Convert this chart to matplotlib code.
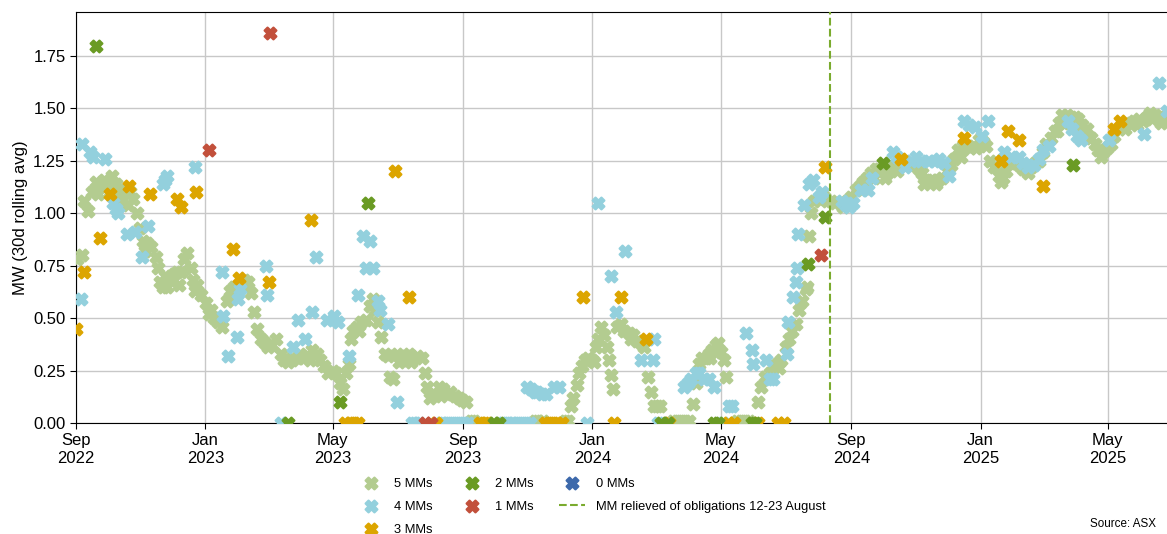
import numpy as np
import pandas as pd
import matplotlib
matplotlib.use('Agg')
import matplotlib.pyplot as plt
import matplotlib.dates as mdates

plt.rcParams['font.family'] = ['Liberation Sans', 'DejaVu Sans']

# ------------------------------------------------------------------
# Data: 30d rolling average MW, split by number of active market makers
# ------------------------------------------------------------------
mm5_dates = [
    '2022-09-02', '2022-09-07', '2022-09-09', '2022-09-12', '2022-09-16', '2022-09-20', '2022-09-24', '2022-09-27',
    '2022-10-01', '2022-10-05', '2022-10-09', '2022-10-12', '2022-10-17', '2022-10-22', '2022-10-25', '2022-10-29',
    '2022-10-31', '2022-11-03', '2022-11-07', '2022-11-11', '2022-11-15', '2022-11-17', '2022-11-19', '2022-11-22',
    '2022-11-26', '2022-11-29', '2022-12-02', '2022-12-05', '2022-12-09', '2022-12-12', '2022-12-15', '2022-12-18',
    '2022-12-20', '2022-12-24', '2022-12-28', '2023-01-02', '2023-01-06', '2023-01-09', '2023-01-13', '2023-01-17',
    '2023-01-21', '2023-01-24', '2023-01-28', '2023-02-02', '2023-02-06', '2023-02-10', '2023-02-13', '2023-02-16',
    '2023-02-19', '2023-02-22', '2023-02-26', '2023-03-01', '2023-03-05', '2023-03-09', '2023-03-13', '2023-03-16',
    '2023-03-20', '2023-03-24', '2023-03-28', '2023-03-31', '2023-04-04', '2023-04-08', '2023-04-12', '2023-04-16',
    '2023-04-19', '2023-04-23', '2023-04-27', '2023-05-01', '2023-05-04', '2023-05-08', '2023-05-11', '2023-05-14',
    '2023-05-16', '2023-05-18', '2023-05-20', '2023-05-24', '2023-05-28', '2023-06-01', '2023-06-05', '2023-06-08',
    '2023-06-10', '2023-06-13', '2023-06-16', '2023-06-19', '2023-06-22', '2023-06-24', '2023-06-27', '2023-07-01',
    '2023-07-05', '2023-07-09', '2023-07-12', '2023-07-16', '2023-07-20', '2023-07-24', '2023-07-27', '2023-07-29',
    '2023-08-01', '2023-08-05', '2023-08-09', '2023-08-13', '2023-08-16', '2023-08-20', '2023-08-24', '2023-08-28',
    '2023-08-31', '2023-09-04', '2023-09-08', '2023-09-11', '2023-11-08', '2023-11-11', '2023-11-15', '2023-12-06',
    '2023-12-09', '2023-12-12', '2023-12-14', '2023-12-17', '2023-12-19', '2023-12-22', '2023-12-25', '2023-12-28',
    '2024-01-01', '2024-01-04', '2024-01-06', '2024-01-09', '2024-01-12', '2024-01-15', '2024-01-17', '2024-01-18',
    '2024-01-20', '2024-01-24', '2024-01-28', '2024-01-31', '2024-02-04', '2024-02-08', '2024-02-12', '2024-02-16',
    '2024-02-19', '2024-02-22', '2024-02-25', '2024-02-28', '2024-03-02', '2024-03-05', '2024-03-17', '2024-03-21',
    '2024-03-24', '2024-03-28', '2024-04-01', '2024-04-05', '2024-04-08', '2024-04-10', '2024-04-13', '2024-04-17',
    '2024-04-20', '2024-04-23', '2024-04-26', '2024-04-28', '2024-05-01', '2024-05-04', '2024-05-06', '2024-05-16',
    '2024-05-20', '2024-05-24', '2024-05-28', '2024-06-05', '2024-06-08', '2024-06-12', '2024-06-16', '2024-06-19',
    '2024-06-23', '2024-06-27', '2024-07-01', '2024-07-04', '2024-07-07', '2024-07-11', '2024-07-14', '2024-07-17',
    '2024-07-20', '2024-07-21', '2024-07-23', '2024-07-25', '2024-07-28', '2024-08-02', '2024-08-06', '2024-08-09',
    '2024-08-13', '2024-08-17', '2024-08-21', '2024-08-24', '2024-08-28', '2024-09-01', '2024-09-05', '2024-09-09',
    '2024-09-12', '2024-09-16', '2024-09-20', '2024-09-24', '2024-09-27', '2024-10-01', '2024-10-05', '2024-10-09',
    '2024-10-12', '2024-10-16', '2024-10-20', '2024-10-24', '2024-10-28', '2024-10-31', '2024-11-04', '2024-11-07',
    '2024-11-11', '2024-11-15', '2024-11-18', '2024-11-22', '2024-11-26', '2024-11-30', '2024-12-04', '2024-12-07',
    '2024-12-11', '2024-12-15', '2024-12-19', '2024-12-22', '2024-12-26', '2024-12-30', '2025-01-03', '2025-01-06',
    '2025-01-10', '2025-01-14', '2025-01-18', '2025-01-22', '2025-01-25', '2025-01-29', '2025-02-02', '2025-02-06',
    '2025-02-10', '2025-02-13', '2025-02-17', '2025-02-21', '2025-02-25', '2025-03-01', '2025-03-04', '2025-03-08',
    '2025-03-12', '2025-03-16', '2025-03-19', '2025-03-23', '2025-03-27', '2025-03-31', '2025-04-03', '2025-04-07',
    '2025-04-11', '2025-04-15', '2025-04-19', '2025-04-22', '2025-04-26', '2025-04-30', '2025-05-04', '2025-05-07',
    '2025-05-11', '2025-05-15', '2025-05-19', '2025-05-23', '2025-05-26', '2025-05-30', '2025-06-03', '2025-06-07',
    '2025-06-10', '2025-06-14', '2025-06-18', '2025-06-22', '2025-06-26',
    # lower edge of the thicker stretches of the band
    '2022-09-22', '2022-10-03', '2022-10-14', '2022-10-20', '2022-11-05', '2022-11-24', '2022-12-07', '2022-12-22',
    '2023-01-04', '2023-01-30', '2023-03-18', '2023-04-10', '2023-05-26', '2023-07-03', '2023-07-14', '2023-08-11',
    '2024-01-02', '2024-02-06', '2024-04-21', '2024-06-25', '2024-09-14', '2024-09-22', '2024-10-03', '2024-10-14',
    '2024-11-09', '2024-11-20', '2024-12-13', '2024-12-28', '2025-01-20', '2025-02-15', '2025-03-14', '2025-03-25',
    '2025-04-05', '2025-04-24', '2025-05-17', '2025-05-28', '2025-06-12', '2025-06-20',
]
mm5_vals = [
    0.78, 0.80, 1.06, 1.01, 1.10, 1.15, 1.13, 1.16,
    1.14, 1.18, 1.14, 1.11, 1.11, 1.10, 1.07, 1.00,
    0.93, 0.87, 0.86, 0.84, 0.79, 0.74, 0.67, 0.65,
    0.65, 0.68, 0.71, 0.72, 0.72, 0.78, 0.81, 0.74,
    0.68, 0.66, 0.61, 0.57, 0.54, 0.50, 0.48, 0.46,
    0.58, 0.63, 0.65, 0.66, 0.68, 0.67, 0.62, 0.53,
    0.45, 0.40, 0.38, 0.36, 0.37, 0.40, 0.33, 0.30,
    0.29, 0.30, 0.31, 0.33, 0.31, 0.32, 0.35, 0.33,
    0.30, 0.27, 0.24, 0.25, 0.24, 0.19, 0.16, 0.24,
    0.28, 0.40, 0.44, 0.46, 0.48, 0.49, 0.56, 0.59,
    0.54, 0.48, 0.41, 0.33, 0.32, 0.22, 0.21, 0.33,
    0.30, 0.32, 0.33, 0.31, 0.32, 0.31, 0.24, 0.17,
    0.12, 0.14, 0.17, 0.16, 0.14, 0.15, 0.13, 0.12,
    0.11, 0.10, 0.01, 0.01, 0.01, 0.01, 0.01, 0.01,
    0.01, 0.08, 0.12, 0.18, 0.24, 0.27, 0.30, 0.31,
    0.30, 0.36, 0.40, 0.46, 0.42, 0.36, 0.30, 0.23,
    0.16, 0.46, 0.47, 0.44, 0.43, 0.42, 0.39, 0.38,
    0.36, 0.22, 0.15, 0.08, 0.08, 0.08, 0.01, 0.01,
    0.01, 0.01, 0.01, 0.09, 0.19, 0.28, 0.31, 0.31,
    0.33, 0.35, 0.37, 0.38, 0.34, 0.30, 0.22, 0.01,
    0.01, 0.01, 0.01, 0.10, 0.17, 0.22, 0.24, 0.27,
    0.28, 0.30, 0.36, 0.40, 0.44, 0.47, 0.54, 0.58,
    0.64, 0.65, 0.89, 1.00, 1.06, 1.07, 1.08, 1.06,
    1.06, 1.05, 1.05, 1.03, 1.06, 1.08, 1.11, 1.13,
    1.15, 1.17, 1.19, 1.21, 1.21, 1.20, 1.19, 1.21,
    1.23, 1.24, 1.24, 1.24, 1.23, 1.23, 1.21, 1.19,
    1.16, 1.16, 1.15, 1.16, 1.17, 1.20, 1.23, 1.26,
    1.30, 1.32, 1.32, 1.31, 1.32, 1.35, 1.34, 1.32,
    1.25, 1.22, 1.18, 1.17, 1.20, 1.24, 1.25, 1.23,
    1.21, 1.21, 1.22, 1.24, 1.25, 1.29, 1.33, 1.36,
    1.39, 1.43, 1.47, 1.47, 1.46, 1.46, 1.45, 1.42,
    1.40, 1.36, 1.33, 1.30, 1.29, 1.31, 1.33, 1.37,
    1.40, 1.42, 1.43, 1.43, 1.44, 1.45, 1.44, 1.46,
    1.48, 1.47, 1.46, 1.45, 1.45,
    1.09, 1.10, 1.06, 1.04, 0.82, 0.70, 0.66, 0.63,
    0.52, 0.61, 0.31, 0.30, 0.44, 0.29, 0.29, 0.13,
    0.29, 0.40, 0.31, 0.26, 1.12, 1.17, 1.17, 1.20,
    1.14, 1.14, 1.27, 1.31, 1.15, 1.19, 1.39, 1.43,
    1.42, 1.27, 1.40, 1.42, 1.45, 1.43,
]

mm4_dates = [
    '2022-09-07', '2022-09-06', '2022-09-14', '2022-09-17', '2022-09-28', '2022-10-06', '2022-10-09', '2022-10-11',
    '2022-10-19', '2022-10-27', '2022-11-02', '2022-11-08', '2022-11-22', '2022-11-24', '2022-11-26', '2022-12-22',
    '2023-01-17', '2023-01-18', '2023-01-22', '2023-01-31', '2023-02-01', '2023-02-03', '2023-02-27', '2023-02-28',
    '2023-03-13', '2023-03-25', '2023-03-29', '2023-04-05', '2023-04-12', '2023-04-15', '2023-04-26', '2023-05-02',
    '2023-05-06', '2023-05-16', '2023-05-25', '2023-05-30', '2023-06-01', '2023-06-05', '2023-06-08', '2023-06-13',
    '2023-06-15', '2023-06-22', '2023-07-01', '2023-07-15', '2023-07-18', '2023-07-21', '2023-08-11', '2023-08-14',
    '2023-08-18', '2023-08-22', '2023-08-25', '2023-08-29', '2023-09-02', '2023-09-06', '2023-10-09', '2023-10-12',
    '2023-10-16', '2023-10-19', '2023-10-23', '2023-10-27', '2023-10-30', '2023-11-03', '2023-10-31', '2023-11-04',
    '2023-11-08', '2023-11-10', '2023-11-14', '2023-11-18', '2023-11-26', '2023-11-30', '2023-12-27', '2024-01-06',
    '2024-01-18', '2024-01-23', '2024-02-01', '2024-02-16', '2024-02-28', '2024-02-27', '2024-03-03', '2024-03-27',
    '2024-03-31', '2024-04-03', '2024-04-08', '2024-04-10', '2024-04-15', '2024-04-20', '2024-04-25', '2024-05-03',
    '2024-05-09', '2024-05-12', '2024-05-25', '2024-05-30', '2024-05-31', '2024-06-13', '2024-06-16', '2024-06-19',
    '2024-07-02', '2024-07-03', '2024-07-08', '2024-07-11', '2024-07-12', '2024-07-13', '2024-07-18', '2024-07-23',
    '2024-07-27', '2024-08-02', '2024-08-04', '2024-08-23', '2024-08-27', '2024-08-30', '2024-09-03', '2024-09-10',
    '2024-09-17', '2024-09-21', '2024-10-10', '2024-10-14', '2024-10-22', '2024-10-27', '2024-11-01', '2024-11-06',
    '2024-11-13', '2024-11-18', '2024-11-23', '2024-11-27', '2024-12-02', '2024-12-16', '2024-12-21', '2024-12-27',
    '2025-01-02', '2025-01-08', '2025-01-23', '2025-01-30', '2025-02-06', '2025-02-10', '2025-02-15', '2025-02-20',
    '2025-02-25', '2025-03-01', '2025-03-06', '2025-03-24', '2025-03-28', '2025-04-02', '2025-04-06', '2025-05-02',
    '2025-06-04', '2025-06-18', '2025-06-26',
]
mm4_vals = [
    1.33, 0.59, 1.29, 1.27, 1.26, 1.05, 1.02, 1.00,
    0.90, 0.91, 0.79, 0.94, 1.14, 1.16, 1.18, 1.22,
    0.72, 0.51, 0.32, 0.41, 0.59, 0.64, 0.75, 0.61,
    0.00, 0.36, 0.49, 0.40, 0.53, 0.79, 0.49, 0.51,
    0.48, 0.32, 0.61, 0.89, 0.74, 0.87, 0.74, 0.58,
    0.54, 0.47, 0.10, 0.00, 0.00, 0.00, 0.00, 0.00,
    0.00, 0.00, 0.00, 0.00, 0.00, 0.00, 0.00, 0.00,
    0.00, 0.00, 0.00, 0.00, 0.00, 0.00, 0.17, 0.16,
    0.15, 0.15, 0.14, 0.14, 0.17, 0.17, 0.00, 1.05,
    0.70, 0.53, 0.82, 0.30, 0.40, 0.30, 0.00, 0.17,
    0.19, 0.21, 0.24, 0.24, 0.21, 0.21, 0.17, 0.00,
    0.08, 0.08, 0.43, 0.35, 0.28, 0.30, 0.21, 0.21,
    0.33, 0.48, 0.60, 0.67, 0.74, 0.90, 1.04, 1.14,
    1.16, 1.08, 1.10, 1.06, 1.04, 1.03, 1.05, 1.11,
    1.11, 1.17, 1.29, 1.27, 1.22, 1.25, 1.27, 1.25,
    1.25, 1.25, 1.26, 1.24, 1.18, 1.44, 1.42, 1.41,
    1.37, 1.44, 1.29, 1.27, 1.27, 1.24, 1.22, 1.23,
    1.26, 1.30, 1.32, 1.44, 1.40, 1.37, 1.35, 1.35,
    1.38, 1.62, 1.49,
]

mm3_dates = [
    '2022-09-01', '2022-09-09', '2022-09-24', '2022-10-03', '2022-10-21', '2022-11-10', '2022-12-05', '2022-12-09',
    '2022-12-23', '2023-01-27', '2023-02-02', '2023-03-02', '2023-04-11', '2023-05-13', '2023-05-17', '2023-05-21',
    '2023-05-25', '2023-06-29', '2023-07-12', '2023-08-06', '2023-09-17', '2023-09-21', '2023-09-24', '2023-11-17',
    '2023-11-21', '2023-11-25', '2023-11-29', '2023-12-03', '2023-12-23', '2024-01-21', '2024-01-28', '2024-02-20',
    '2024-03-13', '2024-05-08', '2024-05-13', '2024-06-05', '2024-06-24', '2024-06-30', '2024-08-07', '2024-10-18',
    '2024-12-16', '2025-01-20', '2025-01-27', '2025-02-06', '2025-03-01', '2025-05-07', '2025-05-12',
]
mm3_vals = [
    0.45, 0.72, 0.88, 1.09, 1.13, 1.09, 1.07, 1.03,
    1.10, 0.83, 0.69, 0.67, 0.97, 0.00, 0.00, 0.00,
    0.00, 1.20, 0.60, 0.00, 0.00, 0.00, 0.00, 0.00,
    0.00, 0.00, 0.00, 0.00, 0.60, 0.00, 0.60, 0.40,
    0.00, 0.00, 0.00, 0.00, 0.00, 0.00, 1.22, 1.26,
    1.36, 1.25, 1.39, 1.35, 1.13, 1.40, 1.44,
]

mm2_dates = [
    '2022-09-20', '2023-03-20', '2023-05-08', '2023-06-03', '2023-09-30', '2023-10-05', '2024-03-06', '2024-03-12',
    '2024-04-25', '2024-04-28', '2024-05-30', '2024-06-02', '2024-07-22', '2024-08-07', '2024-10-01', '2025-03-29',
]
mm2_vals = [
    1.80, 0.00, 0.10, 1.05, 0.00, 0.00, 0.00, 0.00,
    0.00, 0.00, 0.00, 0.00, 0.76, 0.98, 1.24, 1.23,
]

mm1_dates = ['2023-01-04', '2023-03-03', '2023-07-27', '2023-08-02', '2024-08-03']
mm1_vals = [1.30, 1.86, 0.00, 0.00, 0.80]

mm0_dates = []
mm0_vals = []

RELIEF_DATE = '2024-08-12'

SERIES = [
    ('5 MMs', mm5_dates, mm5_vals, '#b3cc90'),
    ('4 MMs', mm4_dates, mm4_vals, '#93d0dd'),
    ('3 MMs', mm3_dates, mm3_vals, '#dca500'),
    ('2 MMs', mm2_dates, mm2_vals, '#6a9b24'),
    ('1 MMs', mm1_dates, mm1_vals, '#c2503b'),
    ('0 MMs', mm0_dates, mm0_vals, '#3d69ab'),
]

# ------------------------------------------------------------------
# Plot
# ------------------------------------------------------------------
fig = plt.figure(figsize=(11.67, 5.34), dpi=100)
ax = fig.add_axes([0.0651, 0.2079, 0.937, 0.7697])

for label, dates, vals, color in SERIES:
    ax.scatter(pd.to_datetime(dates), vals, marker='X', s=72,
               color=color, edgecolors=color, linewidths=1.6,
               label=label, zorder=3)

ax.axvline(pd.Timestamp(RELIEF_DATE), color='#7aab2e', ls='--', lw=1.5,
           label='MM relieved of obligations 12-23 August', zorder=4)

ax.set_xlim(pd.Timestamp('2022-09-01'), pd.Timestamp('2025-06-28'))
ax.set_ylim(0, 1.96)
ax.set_yticks(np.arange(0, 1.76, 0.25))
ax.yaxis.set_major_formatter(matplotlib.ticker.FormatStrFormatter('%.2f'))
ax.xaxis.set_major_locator(mdates.MonthLocator(bymonth=[1, 5, 9]))
ax.xaxis.set_major_formatter(mdates.DateFormatter('%b\n%Y'))
ax.tick_params(labelsize=12, length=4, color='black')
ax.grid(True, color='#c8c8c8', lw=1)
ax.set_axisbelow(True)
ax.spines['right'].set_visible(False)
ax.set_ylabel('MW (30d rolling avg)', fontsize=12)

fig.legend(loc='upper center', bbox_to_anchor=(0.507, 0.127), ncol=3,
           frameon=False, fontsize=9.3, scatterpoints=1,
           handlelength=2.0, handletextpad=0.8, columnspacing=2.0,
           labelspacing=0.85)

fig.text(0.991, 0.019, 'Source: ASX', ha='right', va='center', fontsize=8.4)

plt.savefig('out.png', dpi=100)
plt.close()
